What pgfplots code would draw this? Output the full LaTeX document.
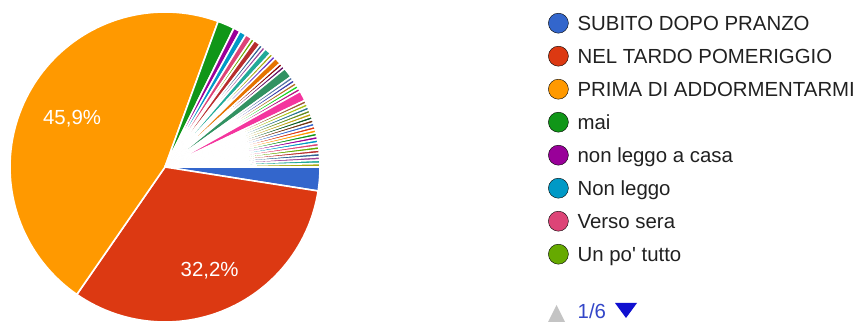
\documentclass[border=0pt]{standalone}
\usepackage{fontspec}
\setmainfont{Liberation Sans}
\usepackage{pgfplots}
\usepackage{pgfplotstable}
\pgfplotsset{compat=1.18}

% default Google Charts palette (repeats after 31 colours)
\definecolor{g1}{HTML}{3366CC}
\definecolor{g2}{HTML}{DC3912}
\definecolor{g3}{HTML}{FF9900}
\definecolor{g4}{HTML}{109618}
\definecolor{g5}{HTML}{990099}
\definecolor{g6}{HTML}{0099C6}
\definecolor{g7}{HTML}{DD4477}
\definecolor{g8}{HTML}{66AA00}
\definecolor{g9}{HTML}{B82E2E}
\definecolor{g10}{HTML}{316395}
\definecolor{g11}{HTML}{994499}
\definecolor{g12}{HTML}{22AA99}
\definecolor{g13}{HTML}{AAAA11}
\definecolor{g14}{HTML}{6633CC}
\definecolor{g15}{HTML}{E67300}
\definecolor{g16}{HTML}{8B0707}
\definecolor{g17}{HTML}{651067}
\definecolor{g18}{HTML}{329262}
\definecolor{g19}{HTML}{5574A6}
\definecolor{g20}{HTML}{3B3EAC}
\definecolor{g21}{HTML}{B77322}
\definecolor{g22}{HTML}{16D620}
\definecolor{g23}{HTML}{B91383}
\definecolor{g24}{HTML}{F4359E}
\definecolor{g25}{HTML}{9C5935}
\definecolor{g26}{HTML}{A9C413}
\definecolor{g27}{HTML}{2A778D}
\definecolor{g28}{HTML}{668D1C}
\definecolor{g29}{HTML}{BEA413}
\definecolor{g30}{HTML}{0C5922}
\definecolor{g31}{HTML}{743411}
\definecolor{legendtext}{HTML}{212121}
\definecolor{pagerblue}{HTML}{3346C8}
\definecolor{arrowblue}{HTML}{1010D0}
\definecolor{arrowgray}{HTML}{C4C4C4}

\newcommand\chartfont{\fontsize{20.4bp}{24bp}\selectfont}

% answers: number of responses per option, in the order of the form
\pgfplotstableread{
count colour
7   g1
91  g2
130 g3
5   g4
2   g5
2   g6
2   g7
1   g8
2   g9
1   g10
1   g11
2   g12
1   g13
1   g14
2   g15
1   g16
1   g17
3   g18
1   g19
1   g20
1   g21
1   g22
1   g23
3   g24
1   g25
1   g26
1   g27
1   g28
1   g29
1   g30
1   g31
1   g1
1   g2
1   g3
1   g4
1   g5
1   g6
1   g7
1   g8
1   g9
1   g10
1   g11
1   g12
1   g13
}\answers

% pie geometry (centre and radius in axis units = bp)
\def\cx{165}
\def\cy{155}
\def\pieR{155}

\pgfplotstablegetrowsof{\answers}
\pgfmathtruncatemacro\lastslice{\pgfplotsretval-1}

% total number of responses
\def\total{0}
\pgfplotsforeachungrouped \i in {0,...,\lastslice}{%
  \pgfplotstablegetelem{\i}{count}\of\answers
  \pgfmathtruncatemacro\total{\total+\pgfplotsretval}%
}

% start/end angle of every slice, clockwise from 3 o'clock
\def\cum{0}
\pgfplotsforeachungrouped \i in {0,...,\lastslice}{%
  \pgfplotstablegetelem{\i}{count}\of\answers
  \let\slicecount\pgfplotsretval
  \pgfmathsetmacro\startang{-(\cum/\total)*360}%
  \pgfmathtruncatemacro\cum{\cum+\slicecount}%
  \pgfmathsetmacro\endang{-(\cum/\total)*360}%
  \pgfmathtruncatemacro\nsamp{max(3,ceil((\startang-\endang)/2)+1)}%
  \pgfplotstablegetelem{\i}{colour}\of\answers
  \expandafter\xdef\csname sliceA\i\endcsname{\endang}%
  \expandafter\xdef\csname sliceB\i\endcsname{\startang}%
  \expandafter\xdef\csname sliceS\i\endcsname{\nsamp}%
  \expandafter\xdef\csname sliceC\i\endcsname{\pgfplotsretval}%
}
\pgfmathsetmacro\midred{(\csname sliceA1\endcsname+\csname sliceB1\endcsname)/2}
\pgfmathsetmacro\midorange{(\csname sliceA2\endcsname+\csname sliceB2\endcsname)/2}

\begin{document}
\begin{tikzpicture}
\begin{axis}[
  width=861bp, height=322bp, scale only axis,
  xmin=0, xmax=861, ymin=0, ymax=322,
  hide axis, clip=false,
  legend style={at={(axis cs:548,310)}, anchor=north west,
    draw=none, fill=none, inner sep=0pt,
    row sep=11bp, column sep=9bp,
    font=\chartfont, text=legendtext,
    nodes={inner sep=0pt, text height=18bp, text depth=4bp}},
  legend cell align=left,
  legend image code/.code={\fill[#1] (10bp,0bp) circle[radius=10bp];},
]
\addlegendimage{fill=g1}\addlegendentry{SUBITO DOPO PRANZO}
\addlegendimage{fill=g2}\addlegendentry{NEL TARDO POMERIGGIO}
\addlegendimage{fill=g3}\addlegendentry{PRIMA DI ADDORMENTARMI}
\addlegendimage{fill=g4}\addlegendentry{mai}
\addlegendimage{fill=g5}\addlegendentry{non leggo a casa}
\addlegendimage{fill=g6}\addlegendentry{Non leggo}
\addlegendimage{fill=g7}\addlegendentry{Verso sera}
\addlegendimage{fill=g8}\addlegendentry{Un po\textquotesingle\ tutto}

\pgfplotsinvokeforeach{0,...,\lastslice}{%
  \edef\doslice{\noexpand\addplot[forget plot,
      fill=\csname sliceC#1\endcsname, draw=white,
      line width=1.6pt, line join=round,
      domain=\csname sliceA#1\endcsname:\csname sliceB#1\endcsname,
      samples=\csname sliceS#1\endcsname, variable=\noexpand\t]
    ({\cx+\pieR*cos(\noexpand\t)},{\cy+\pieR*sin(\noexpand\t)})
    -- (axis cs:\cx,\cy) -- cycle;}%
  \doslice
}

\node[text=white, font=\chartfont] at
  (axis cs:{\cx+0.675*\pieR*cos(\midorange)},{\cy+0.675*\pieR*sin(\midorange)}) {45,9\%};
\node[text=white, font=\chartfont] at
  (axis cs:{\cx+0.73*\pieR*cos(\midred)},{\cy+0.73*\pieR*sin(\midred)}) {32,2\%};

% pager below the legend
\fill[arrowgray] (axis cs:548,0) -- (axis cs:565,0) -- (axis cs:556.5,17) -- cycle;
\node[anchor=base west, inner sep=0pt, font=\chartfont, text=pagerblue]
  at (axis cs:577.5,4) {1/6};
\fill[arrowblue] (axis cs:615,19) -- (axis cs:637,19) -- (axis cs:626,4) -- cycle;
\end{axis}
% the page is exactly the axis rectangle
\pgfresetboundingbox
\path (current axis.south west) rectangle (current axis.north east);
\end{tikzpicture}
\end{document}
